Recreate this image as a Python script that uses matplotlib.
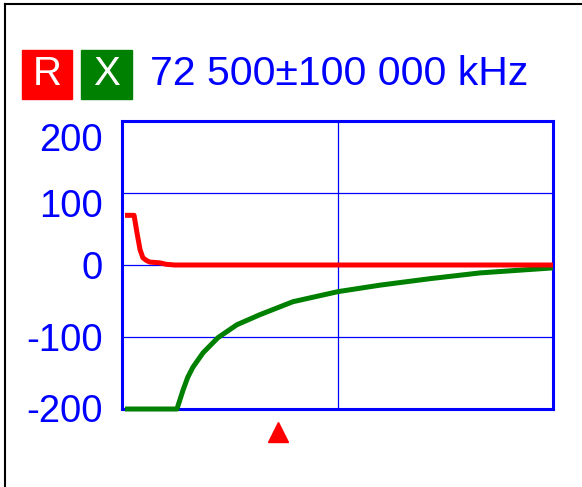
import matplotlib
matplotlib.use('Agg')
import matplotlib.pyplot as plt
import matplotlib.transforms as mtransforms
from matplotlib.patches import Rectangle
from matplotlib.lines import Line2D

# frequency in MHz (centre 72.5, span +-100)
center_mhz = 72.5
span_mhz = 100.0

r_freq = [-26.1, -21.9, -20.5, -19.1, -17.8, -16.0, -14.5, -9.9, -7.1, -2.9, 172.5]
r_vals = [69, 69, 44, 21, 10, 6, 4, 3, 1, 0, 0]

x_freq = [-26.1, -2.0, 0.8, 3.0, 5.4, 10.1, 17.0, 25.8, 36.5, 51.8, 72.7, 92.2, 115.4, 138.6, 172.5]
x_vals = [-200, -200, -174, -156, -142, -122, -101, -83, -69, -51, -37, -28, -19, -11, -4]

y_ticks = [200, 100, 0, -100, -200]
tick_offsets_px = [-20, -14, -4, -4, -3]  # labels sit a bit below their gridline
marker_freq = 45.0

header_text = '72 500\u00b1100 000 kHz'

blue = '#0000ff'
red = '#ff0000'
green = '#008000'

fig = plt.figure(figsize=(5.82, 4.87), dpi=100)
W, H = 582.0, 487.0

ax = fig.add_axes([122 / W, 1 - 409 / H, (553 - 122) / W, (409 - 121) / H])
ax.set_xlim(center_mhz - span_mhz, center_mhz + span_mhz)
ax.set_ylim(-200, 200)

for s in ax.spines.values():
    s.set_color(blue)
    s.set_linewidth(2.2)

ax.set_xticks([])
ax.set_yticks([])
for v in y_ticks[1:-1]:
    ax.axhline(v, color=blue, lw=0.9, zorder=1)
ax.axvline(center_mhz, color=blue, lw=0.9, zorder=1)

ax.plot(x_freq, x_vals, color=green, lw=3.6, solid_capstyle='butt', zorder=3, clip_on=False)
ax.plot(r_freq, r_vals, color=red, lw=3.6, solid_capstyle='butt', zorder=4, clip_on=False)

# y labels
font = ['Liberation Sans', 'DejaVu Sans']
trans = mtransforms.blended_transform_factory(ax.transAxes, ax.transData)
for v, off in zip(y_ticks, tick_offsets_px):
    t = trans + mtransforms.ScaledTranslation(0, off / 100.0, fig.dpi_scale_trans)
    ax.text(-19 / 431.0, v, str(v), transform=t, ha='right', va='center',
            color=blue, fontsize=27.5, family=font)

# marker triangle below the axis
mtrans = mtransforms.blended_transform_factory(ax.transData, fig.transFigure)
ax.plot([marker_freq], [1 - 432 / H], marker='^', color=red, markersize=15,
        transform=mtrans, clip_on=False, linestyle='none')

# header
fig.patches.append(Rectangle((22 / W, 1 - 99 / H), 50 / W, 49 / H,
                             transform=fig.transFigure, color=red))
fig.patches.append(Rectangle((81 / W, 1 - 99 / H), 51 / W, 49 / H,
                             transform=fig.transFigure, color=green))
fig.text(47 / W, 1 - 74 / H, 'R', color='white', fontsize=29, ha='center', va='center', family=font)
fig.text(106.5 / W, 1 - 74 / H, 'X', color='white', fontsize=29, ha='center', va='center', family=font)
fig.text(150 / W, 1 - 74 / H, header_text, color=blue, fontsize=29.5, ha='left', va='center', family=font)

# black frame lines at top and left
fig.add_artist(Line2D([5 / W, 1], [1 - 4 / H, 1 - 4 / H], transform=fig.transFigure, color='black', lw=1.5))
fig.add_artist(Line2D([5 / W, 5 / W], [0, 1 - 4 / H], transform=fig.transFigure, color='black', lw=1.5))

fig.savefig('out.png', dpi=100, facecolor='white')
